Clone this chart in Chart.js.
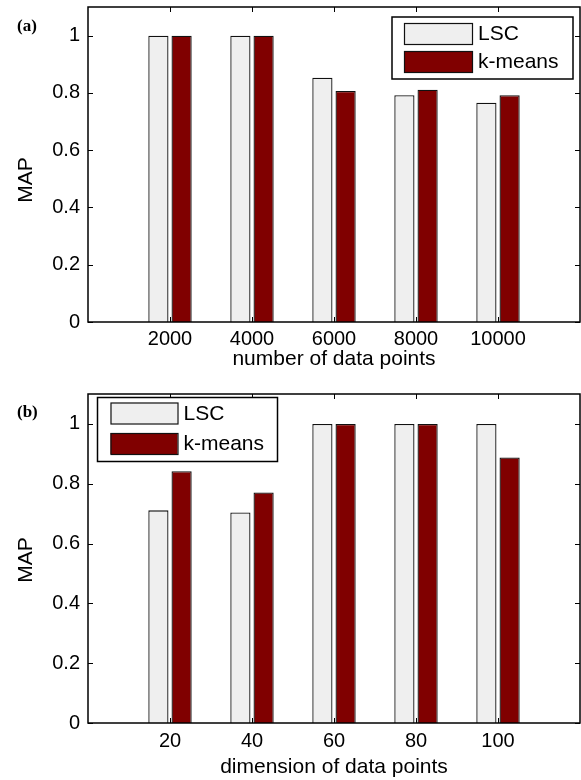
<!DOCTYPE html>
<html>
<head>
<meta charset="utf-8">
<script src="https://cdn.jsdelivr.net/npm/chart.js@4"></script>
<style>
  body { margin: 0; background: #fff; }
  .panel { position: absolute; left: 0; width: 581px; height: 390px; }
  .tag { position: absolute; left: 17px; font: bold 17px "Liberation Serif", serif; color: #000; }
</style>
</head>
<body>
<div class="panel" style="top:0">
  <canvas id="chartA" width="581" height="390"></canvas>
  <div class="tag" style="top:16px">(a)</div>
</div>
<div class="panel" style="top:390px">
  <canvas id="chartB" width="581" height="390"></canvas>
  <div class="tag" style="top:12px">(b)</div>
</div>
<script>
// values
const seriesNames = ["LSC", "k-means"];
const pointCounts = ["2000", "4000", "6000", "8000", "10000"];
const lscByPoints = [1, 1, 0.853, 0.792, 0.766];
const kmeansByPoints = [1, 1, 0.807, 0.811, 0.792];
const dimensions = ["20", "40", "60", "80", "100"];
const lscByDim = [0.711, 0.704, 1, 1, 1];
const kmeansByDim = [0.842, 0.771, 1, 1, 0.888];
const mapTicks = [0, 0.2, 0.4, 0.6, 0.8, 1];

const FONT = '"Liberation Sans", Arial, sans-serif';

// box around the axes plus matlab style inward ticks, and the y label
const frame = {
  id: "frame",
  afterDatasetsDraw(chart, args, o) {
    const { ctx, chartArea: a, scales } = chart;
    ctx.save();
    ctx.strokeStyle = "#000";
    ctx.lineWidth = 1;
    ctx.beginPath();
    scales.y.ticks.forEach(function (t) {
      const py = Math.round(scales.y.getPixelForValue(t.value)) + 0.5;
      ctx.moveTo(a.left, py); ctx.lineTo(a.left + 5, py);
      ctx.moveTo(a.right, py); ctx.lineTo(a.right - 5, py);
    });
    scales.x.ticks.forEach(function (t, i) {
      if (!t.label) return;
      const px = Math.round(scales.x.getPixelForTick(i)) + 0.5;
      ctx.moveTo(px, a.bottom); ctx.lineTo(px, a.bottom - 5);
      ctx.moveTo(px, a.top); ctx.lineTo(px, a.top + 5);
    });
    ctx.stroke();
    ctx.lineWidth = 1.5;
    ctx.strokeRect(a.left, a.top, a.width, a.height);

    // y axis title
    ctx.translate(o.yTitleX, o.yTitleY);
    ctx.rotate(-Math.PI / 2);
    ctx.fillStyle = "#000";
    ctx.font = "21px " + FONT;
    ctx.textAlign = "center";
    ctx.textBaseline = "middle";
    ctx.fillText(o.yTitle, 0, 0);
    ctx.restore();
  }
};

// legend with a frame, placed inside the axes
const boxLegend = {
  id: "boxLegend",
  afterDraw(chart, args, o) {
    const ctx = chart.ctx;
    ctx.save();
    ctx.fillStyle = "#fff";
    ctx.fillRect(o.x, o.y, o.w, o.h);
    ctx.lineWidth = 1.5;
    ctx.strokeStyle = "#000";
    ctx.strokeRect(o.x, o.y, o.w, o.h);
    chart.data.datasets.forEach(function (ds, i) {
      const sx = o.x + o.pad;
      const sy = o.y + o.top + i * o.step;
      ctx.fillStyle = ds.backgroundColor;
      ctx.fillRect(sx, sy, o.sw, o.sh);
      ctx.lineWidth = 1.2;
      ctx.strokeStyle = ds.borderColor;
      ctx.strokeRect(sx + 0.5, sy + 0.5, o.sw, o.sh);
      ctx.fillStyle = "#000";
      ctx.font = "21px " + FONT;
      ctx.textBaseline = "middle";
      ctx.fillText(ds.label, sx + o.sw + 6, sy + o.sh / 2 + 1);
    });
    ctx.restore();
  }
};

function pad(arr, fill) {
  return [fill].concat(arr, [fill]);
}

function makeChart(id, cats, lsc, km, xTitle, lay) {
  const data = {
    labels: pad(cats, ""),
    datasets: [
      {
        label: seriesNames[0],
        data: pad(lsc, null),
        backgroundColor: "#efefef",
        borderColor: "#111",
        borderWidth: 1.3,
        categoryPercentage: 0.566,
        barPercentage: 0.87
      },
      {
        label: seriesNames[1],
        data: pad(km, null),
        backgroundColor: "#800000",
        borderColor: "#111",
        borderWidth: 1.3,
        categoryPercentage: 0.566,
        barPercentage: 0.87
      }
    ]
  };

  return new Chart(document.getElementById(id), {
    type: "bar",
    data: data,
    plugins: [frame, boxLegend],
    options: {
      responsive: false,
      animation: false,
      layout: { padding: { top: lay.top, right: 1, left: 0, bottom: 0 } },
      plugins: {
        legend: { display: false },
        tooltip: { enabled: false },
        frame: { yTitle: "MAP", yTitleX: 26, yTitleY: lay.yTitleY },
        boxLegend: lay.legend
      },
      scales: {
        x: {
          offset: false,
          grid: { display: false, drawTicks: false, offset: false },
          border: { display: false },
          ticks: { color: "#000", font: { family: FONT, size: 20 }, padding: lay.tickPad, maxRotation: 0, autoSkip: false },
          title: { display: true, text: xTitle, color: "#000", font: { family: FONT, size: 21 }, padding: { top: 0, bottom: lay.titlePad } },
          afterFit: function (s) {
            s.height = lay.xHeight;
            s.paddingLeft = 0;
            s.paddingRight = 0;
          }
        },
        y: {
          min: 0,
          max: 1.1,
          grid: { display: false, drawTicks: false },
          border: { display: false },
          afterBuildTicks: function (s) { s.ticks = mapTicks.map(function (v) { return { value: v }; }); },
          ticks: { color: "#000", font: { family: FONT, size: 20 }, padding: 8, callback: function (v) { return String(v); } },
          afterFit: function (s) {
            s.width = 88;
            s.paddingTop = 0;
            s.paddingBottom = 0;
          }
        }
      }
    }
  });
}

makeChart("chartA", pointCounts, lscByPoints, kmeansByPoints, "number of data points", {
  top: 7, xHeight: 68, tickPad: 5, titlePad: 18, yTitleY: 180,
  legend: { x: 392, y: 17, w: 181, h: 62, pad: 12, top: 6, step: 28, sw: 68, sh: 21 }
});

makeChart("chartB", dimensions, lscByDim, kmeansByDim, "dimension of data points", {
  top: 4, xHeight: 57, tickPad: 6, titlePad: 0, yTitleY: 170,
  legend: { x: 97.5, y: 7.5, w: 180, h: 64, pad: 13, top: 5, step: 30.5, sw: 67, sh: 21 }
});
</script>
</body>
</html>
